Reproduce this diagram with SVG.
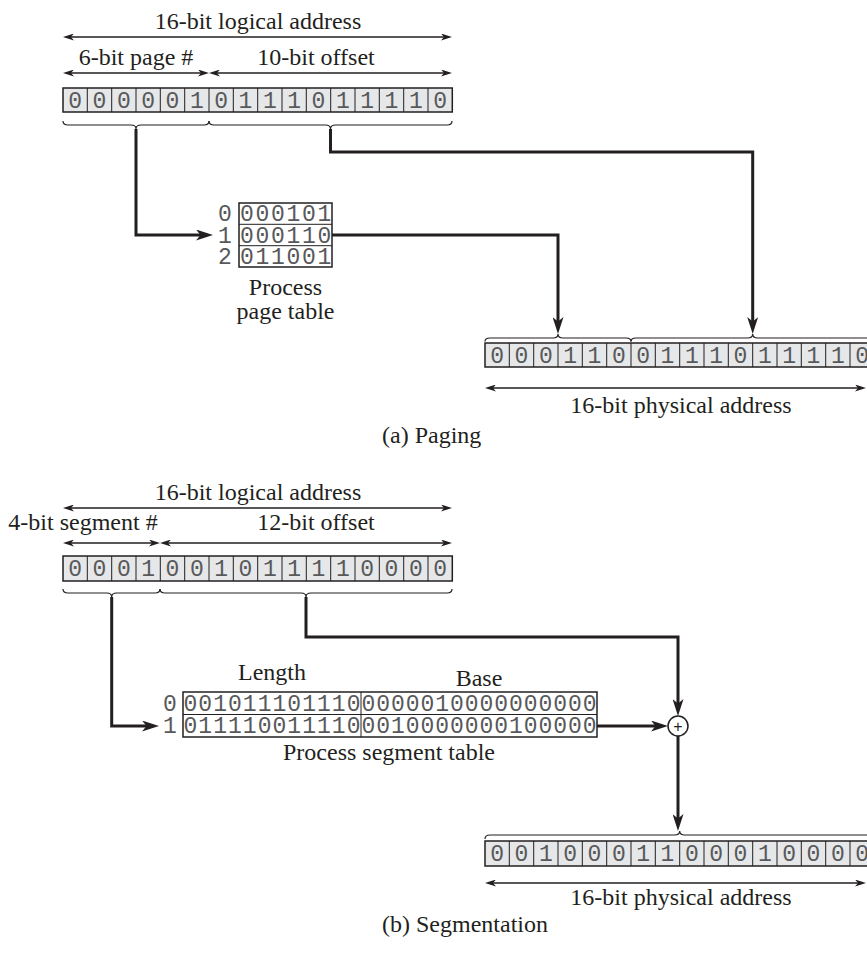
<svg xmlns="http://www.w3.org/2000/svg" width="867" height="953" viewBox="0 0 867 953">
<style>
.lbl{font-family:"Liberation Serif","Times New Roman",serif;font-size:24px;fill:#231f20}
.bit{font-family:"Liberation Mono","Courier New",monospace;font-size:23px;fill:#58595b;text-anchor:middle}
.reg{fill:#e6e7e8;stroke:#231f20;stroke-width:1.5}
.tbl{fill:#ffffff;stroke:#231f20;stroke-width:1.5}
.div{fill:none;stroke:#231f20;stroke-width:1}
.brace{fill:none;stroke:#231f20;stroke-width:1.2}
.dim{fill:none;stroke:#231f20;stroke-width:1.4;marker-start:url(#thin);marker-end:url(#thin)}
.conn{fill:none;stroke:#231f20;stroke-width:3;marker-end:url(#thick)}
.mid{text-anchor:middle}
</style>
<defs>
<marker id="thin" viewBox="0 0 11 7" markerWidth="11" markerHeight="7" refX="8" refY="3.5" orient="auto-start-reverse" markerUnits="userSpaceOnUse">
<path d="M0,0 L11,3.5 L0,7 L3,3.5 z" fill="#231f20"/>
</marker>
<marker id="thick" viewBox="0 0 17 11" markerWidth="17" markerHeight="11" refX="9" refY="5.5" orient="auto" markerUnits="userSpaceOnUse">
<path d="M0,0 L17,5.5 L0,11 L4.5,5.5 z" fill="#231f20"/>
</marker>
</defs>
<rect width="867" height="953" fill="#ffffff"/>

<!-- (a) Paging -->
<g id="logical-address-a">
<text class="lbl mid" x="258" y="29">16-bit logical address</text>
<path class="dim" d="M66 37H449"/>
<text class="lbl mid" x="136" y="65">6-bit page #</text>
<text class="lbl mid" x="316" y="65">10-bit offset</text>
<path class="dim" d="M66 73H206"/>
<path class="dim" d="M212 73H449"/>
<rect class="reg" x="63" y="88" width="389.3" height="24"/>
<path class="div" d="M87.3 88V112M111.7 88V112M136 88V112M160.3 88V112M184.7 88V112M209 88V112M233.3 88V112M257.7 88V112M282 88V112M306.3 88V112M330.7 88V112M355 88V112M379.3 88V112M403.7 88V112M428 88V112"/>
<text class="bit" x="75.2 99.5 123.8 148.2 172.5 196.8 221.2 245.5 269.8 294.2 318.5 342.8 367.2 391.5 415.8 440.2" y="107.5">0000010111011110</text>
<path class="brace" d="M63 121Q63 125 68 125L131 125Q136 125 136 129Q136 125 141 125L204 125Q209 125 209 121"/>
<path class="brace" d="M209 121Q209 125 214 125L325.5 125Q330.5 125 330.5 129Q330.5 125 335.5 125L447 125Q452 125 452 121"/>
</g>

<g id="page-table">
<rect class="tbl" x="239" y="203" width="93" height="64"/>
<path class="div" d="M239 224.3H332M239 245.7H332"/>
<text class="bit" x="225" y="221.3">0</text>
<text class="bit" x="225" y="242.6">1</text>
<text class="bit" x="225" y="264">2</text>
<text class="bit" x="246.8 262.3 277.8 293.3 308.8 324.3" y="221.3">000101</text>
<text class="bit" x="246.8 262.3 277.8 293.3 308.8 324.3" y="242.6">000110</text>
<text class="bit" x="246.8 262.3 277.8 293.3 308.8 324.3" y="264">011001</text>
<text class="lbl mid" x="285.5" y="295">Process</text>
<text class="lbl mid" x="285.5" y="319">page table</text>
</g>

<g id="physical-address-a">
<path class="brace" d="M485 341.5Q485 338 490 338L553 338Q558 338 558 334Q558 338 563 338L626 338Q631 338 631 341.5"/>
<path class="brace" d="M631 341.5Q631 338 636 338L747.7 338Q752.7 338 752.7 334Q752.7 338 757.7 338L869 338Q874 338 874 341.5"/>
<rect class="reg" x="485" y="343" width="389.3" height="24"/>
<path class="div" d="M509.3 343V367M533.7 343V367M558 343V367M582.3 343V367M606.7 343V367M631 343V367M655.3 343V367M679.7 343V367M704 343V367M728.3 343V367M752.7 343V367M777 343V367M801.3 343V367M825.7 343V367M850 343V367"/>
<text class="bit" x="497.2 521.5 545.8 570.2 594.5 618.8 643.2 667.5 691.8 716.2 740.5 764.8 789.2 813.5 837.8 862.2" y="362.5">0001100111011110</text>
<path class="dim" d="M488 388H863"/>
<text class="lbl mid" x="681" y="413">16-bit physical address</text>
</g>

<text id="caption-a" class="lbl" x="382" y="443">(a) Paging</text>

<!-- (b) Segmentation -->
<g id="logical-address-b">
<text class="lbl mid" x="258" y="500">16-bit logical address</text>
<path class="dim" d="M66 508H449"/>
<text class="lbl mid" x="83" y="530">4-bit segment #</text>
<text class="lbl mid" x="316" y="530">12-bit offset</text>
<path class="dim" d="M66 543H157"/>
<path class="dim" d="M163 543H449"/>
<rect class="reg" x="63" y="556" width="389.3" height="25"/>
<path class="div" d="M87.3 556V581M111.7 556V581M136 556V581M160.3 556V581M184.7 556V581M209 556V581M233.3 556V581M257.7 556V581M282 556V581M306.3 556V581M330.7 556V581M355 556V581M379.3 556V581M403.7 556V581M428 556V581"/>
<text class="bit" x="75.2 99.5 123.8 148.2 172.5 196.8 221.2 245.5 269.8 294.2 318.5 342.8 367.2 391.5 415.8 440.2" y="576">0001001011110000</text>
<path class="brace" d="M63 589Q63 593 68 593L106.7 593Q111.7 593 111.7 597Q111.7 593 116.7 593L155 593Q160 593 160 589"/>
<path class="brace" d="M160 589Q160 593 165 593L301 593Q306 593 306 597Q306 593 311 593L447 593Q452 593 452 589"/>
</g>

<g id="segment-table">
<text class="lbl mid" x="272" y="680">Length</text>
<text class="lbl mid" x="479" y="686">Base</text>
<rect class="tbl" x="183" y="692" width="414" height="45"/>
<path class="div" d="M183 714.5H597M361 692V737"/>
<text class="bit" x="170" y="710.5">0</text>
<text class="bit" x="170" y="733">1</text>
<text class="bit" x="190.4 205.2 220.1 234.9 249.7 264.6 279.4 294.2 309.1 323.9 338.7 353.6" y="710.5">001011101110</text>
<text class="bit" x="190.4 205.2 220.1 234.9 249.7 264.6 279.4 294.2 309.1 323.9 338.7 353.6" y="733">011110011110</text>
<text class="bit" x="368.4 383.1 397.9 412.6 427.4 442.1 456.9 471.6 486.4 501.1 515.9 530.6 545.4 560.1 574.9 589.6" y="710.5">0000010000000000</text>
<text class="bit" x="368.4 383.1 397.9 412.6 427.4 442.1 456.9 471.6 486.4 501.1 515.9 530.6 545.4 560.1 574.9 589.6" y="733">0010000000100000</text>
<text class="lbl mid" x="389" y="760">Process segment table</text>
</g>

<g id="adder">
<circle cx="678" cy="726" r="10" fill="#ffffff" stroke="#231f20" stroke-width="1.5"/>
<text x="678" y="731.5" font-family="Liberation Sans, Arial, sans-serif" font-size="16" fill="#231f20" text-anchor="middle">+</text>
</g>

<g id="physical-address-b">
<path class="brace" d="M485 839Q485 835 490 835L674.7 835Q679.7 835 679.7 831Q679.7 835 684.7 835L869 835Q874 835 874 839"/>
<rect class="reg" x="485" y="841" width="389.3" height="25"/>
<path class="div" d="M509.3 841V866M533.7 841V866M558 841V866M582.3 841V866M606.7 841V866M631 841V866M655.3 841V866M679.7 841V866M704 841V866M728.3 841V866M752.7 841V866M777 841V866M801.3 841V866M825.7 841V866M850 841V866"/>
<text class="bit" x="497.2 521.5 545.8 570.2 594.5 618.8 643.2 667.5 691.8 716.2 740.5 764.8 789.2 813.5 837.8 862.2" y="861">0010001100010000</text>
<path class="dim" d="M488 883H863"/>
<text class="lbl mid" x="681" y="905">16-bit physical address</text>
</g>

<text id="caption-b" class="lbl" x="382" y="932">(b) Segmentation</text>

<g id="connectors">
<path class="conn" d="M136 129V235H205"/>
<path class="conn" d="M330.5 129V152H752.7V326"/>
<path class="conn" d="M332 235H558V326"/>
<path class="conn" d="M111.7 597V726H151"/>
<path class="conn" d="M306 597V637H678V708"/>
<path class="conn" d="M597 726H660"/>
<path class="conn" d="M678 736V823"/>
</g>
</svg>
